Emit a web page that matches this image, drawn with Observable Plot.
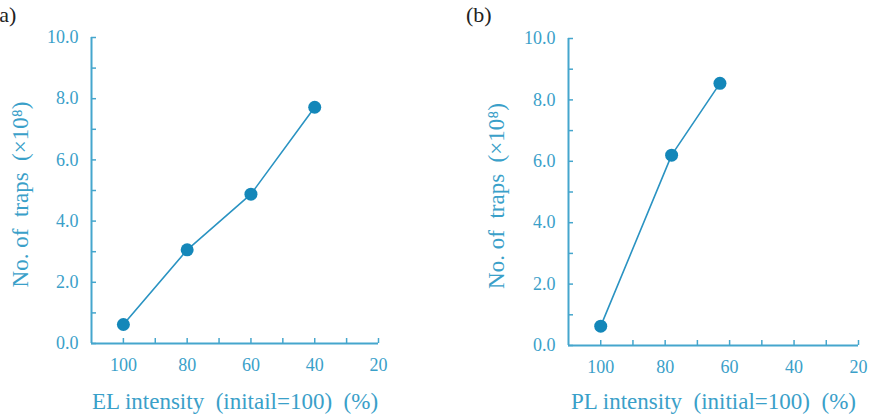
<!DOCTYPE html>
<html>
<head>
<meta charset="utf-8">
<script src="https://cdn.jsdelivr.net/npm/d3@7"></script>
<script src="https://cdn.jsdelivr.net/npm/@observablehq/plot@0.6"></script>
<style>
  html, body { margin: 0; padding: 0; background: #fff; }
  #wrap { position: relative; width: 869px; height: 419px; overflow: hidden; }
  .panel { position: absolute; top: 0; }
  .tag { position: absolute; top: 2px; font-family: "Liberation Serif", "DejaVu Serif", serif; font-size: 22px; color: #222; }
</style>
</head>
<body>
<div id="wrap">
  <div class="panel" id="pa" style="left:0px"></div>
  <div class="panel" id="pb" style="left:434px"></div>
  <div class="tag" style="left:-8px">(a)</div>
  <div class="tag" style="left:466px">(b)</div>
</div>
<script>
// Panel (a): EL intensity vs number of traps
const elIntensity = [100, 80, 60, 40];
const elTraps = [0.62, 3.06, 4.88, 7.72];
// Panel (b): PL intensity vs number of traps
const plIntensity = [100, 78, 63];
const plTraps = [0.63, 6.2, 8.54];

const xTickLabels = [100, 80, 60, 40, 20];
const xTicks = [100, 90, 80, 70, 60, 50, 40, 30, 20];
const yTickLabels = [0, 2, 4, 6, 8, 10];
const yTicks = [0, 1, 2, 3, 4, 5, 6, 7, 8, 9, 10];
const xDomain = [110, 20];
const yDomain = [0, 10];

const yLabel = "No. of\u2002traps\u2002(\u00d710\u2078)";
const elLabel = "EL intensity\u2002(initail=100)\u2002(%)";
const plLabel = "PL intensity\u2002(initial=100)\u2002(%)";

const axisColor = "#45a6cd";
const textColor = "#3aa0c9";
const lineColor = "#2a93c2";
const dotColor = "#1487b9";
const serif = "\"Liberation Serif\", \"DejaVu Serif\", serif";

function panel(xs, ys, xLabel, opts) {
  const data = xs.map((x, i) => ({x, y: ys[i]}));
  const innerW = opts.width - opts.marginLeft - opts.marginRight;
  const innerH = opts.height - opts.marginTop - opts.marginBottom;
  return Plot.plot({
    width: opts.width,
    height: opts.height,
    marginLeft: opts.marginLeft,
    marginRight: opts.marginRight,
    marginTop: opts.marginTop,
    marginBottom: opts.marginBottom,
    style: {fontFamily: serif, fontSize: "18px", color: textColor, background: "transparent", overflow: "visible"},
    x: {domain: xDomain},
    y: {domain: yDomain},
    marks: [
      Plot.axisX({ticks: xTickLabels, tickSize: 0, tickPadding: 15, label: null, tickFormat: d => String(d), fontFamily: serif}),
      Plot.axisY({ticks: yTickLabels, tickSize: 0, tickPadding: 13, label: null, tickFormat: d => d.toFixed(1), fontFamily: serif}),
      Plot.tickX(xTicks, {x: d => d, stroke: axisColor, strokeWidth: 1.5, insetTop: innerH - 5}),
      Plot.tickY(yTicks, {y: d => d, stroke: axisColor, strokeWidth: 1.5, insetRight: innerW - 5}),
      Plot.ruleX([xDomain[0]], {stroke: axisColor, strokeWidth: 2}),
      Plot.ruleY([yDomain[0]], {stroke: axisColor, strokeWidth: 2}),
      Plot.line(data, {x: "x", y: "y", stroke: lineColor, strokeWidth: 1.6}),
      Plot.dot(data, {x: "x", y: "y", r: 6.5, fill: dotColor, stroke: "none"}),
      Plot.text([yLabel], {text: d => d, frameAnchor: "left", textAnchor: "middle", rotate: -90, dx: -opts.yLabelOffset, dy: 4, fontSize: 23, fontFamily: serif, fill: textColor, lineAnchor: "middle"}),
      Plot.text([xLabel], {text: d => d, frameAnchor: "bottom", textAnchor: "middle", dy: opts.xLabelDy, fontSize: 23, fontFamily: serif, fill: textColor, lineAnchor: "middle"})
    ]
  });
}

document.getElementById("pa").appendChild(panel(elIntensity, elTraps, elLabel, {
  width: 434, height: 419, marginLeft: 91, marginRight: 56, marginTop: 37, marginBottom: 76,
  yLabelOffset: 71, xLabelDy: 58
}));
document.getElementById("pb").appendChild(panel(plIntensity, plTraps, plLabel, {
  width: 435, height: 419, marginLeft: 134, marginRight: 11, marginTop: 38, marginBottom: 74,
  yLabelOffset: 72, xLabelDy: 56
}));
</script>
</body>
</html>
